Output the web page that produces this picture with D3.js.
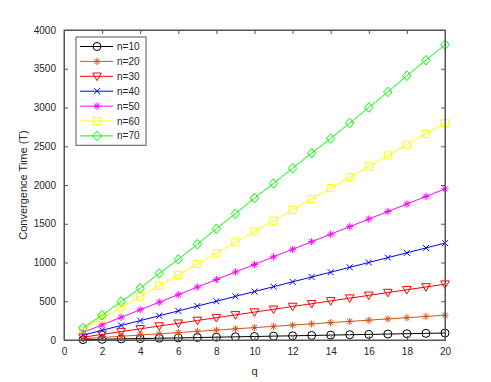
<!DOCTYPE html>
<html><head><meta charset="utf-8">
<script src="https://cdn.jsdelivr.net/npm/d3@7"></script>
<style>body{margin:0;background:#fff}svg{display:block}text{font-family:"Liberation Sans",Arial,sans-serif;fill:#262626}</style>
</head><body><svg id="c" width="491" height="382"></svg>
<script>
const qValues = [1,2,3,4,5,6,7,8,9,10,11,12,13,14,15,16,17,18,19,20];
const seriesNames = ["n=10","n=20","n=30","n=40","n=50","n=60","n=70"];
const n10 = [5,9,14,18,23,27,32,36,41,45,50,54,59,63,68,72,77,81,86,90];
const n20 = [16,32,48,64,80,96,112,128,144,160,176,192,208,224,240,256,272,288,304,320];
const n30 = [36,72,108,144,180,216,252,288,324,360,396,432,468,504,540,576,612,648,684,720];
const n40 = [63,125,188,250,313,375,438,500,563,625,688,750,813,875,938,1000,1063,1125,1188,1250];
const n50 = [98,195,293,390,488,585,683,780,878,975,1073,1170,1268,1365,1463,1560,1658,1755,1853,1950];
const n60 = [140,280,420,560,700,840,980,1120,1260,1400,1540,1680,1820,1960,2100,2240,2380,2520,2660,2800];
const n70 = [155,320,495,667,860,1040,1235,1436,1630,1832,2020,2215,2410,2600,2800,3000,3200,3410,3610,3810];
const xTicks = [0,2,4,6,8,10,12,14,16,18,20];
const yTicks = [0,500,1000,1500,2000,2500,3000,3500,4000];
const colors = ["#000000","#D95319","#FF0000","#0000FF","#FF00FF","#FFFF00","#00FF00"];
const markers = ["circle","asterisk","triDown","cross","asterisk","square","diamond"];
const allSeries = [n10,n20,n30,n40,n50,n60,n70];

const svg = d3.select("#c");
const L=64, R=445, T=30, B=340;
const x = d3.scaleLinear().domain([0,20]).range([L,R]);
const y = d3.scaleLinear().domain([0,4000]).range([B,T]);
const axisCol = "#555";

function markerPath(type){
  const s=3.6;
  switch(type){
    case "circle": return d3.symbol().type(d3.symbolCircle).size(Math.PI*16)();
    case "square": return `M${-s},${-s}H${s}V${s}H${-s}Z`;
    case "diamond": return `M0,${-4.8}L${4.2},0L0,${4.8}L${-4.2},0Z`;
    case "triDown": return `M${-4.3},${-3.3}L${4.3},${-3.3}L0,${4.3}Z`;
    case "cross": return `M-3,-3L3,3M-3,3L3,-3`;
    case "asterisk": return `M-3.6,0H3.6M0,-3.6V3.6M-2.6,-2.6L2.6,2.6M-2.6,2.6L2.6,-2.6`;
  }
}

const g = svg.append("g");
allSeries.forEach((vals,i)=>{
  const data = qValues.map((q,j)=>[q,vals[j]]);
  g.append("path").datum(data)
    .attr("fill","none").attr("stroke",colors[i]).attr("stroke-width",1)
    .attr("d",d3.line().x(d=>x(d[0])).y(d=>y(d[1])));
  g.selectAll(null).data(data).enter().append("path")
    .attr("transform",d=>`translate(${x(d[0])},${y(d[1])})`)
    .attr("d",markerPath(markers[i]))
    .attr("fill","none").attr("stroke",colors[i]).attr("stroke-width",1);
});

const fmt = d3.format("d");
const xb = svg.append("g").attr("transform",`translate(0,${B})`)
  .call(d3.axisBottom(x).tickValues(xTicks).tickSize(-4).tickPadding(8).tickFormat(fmt));
const xt = svg.append("g").attr("transform",`translate(0,${T})`)
  .call(d3.axisTop(x).tickValues(xTicks).tickSize(-4).tickFormat(""));
const yl = svg.append("g").attr("transform",`translate(${L},0)`)
  .call(d3.axisLeft(y).tickValues(yTicks).tickSize(-4).tickPadding(8).tickFormat(fmt));
const yr = svg.append("g").attr("transform",`translate(${R},0)`)
  .call(d3.axisRight(y).tickValues(yTicks).tickSize(-4).tickFormat(""));
[xb,xt,yl,yr].forEach(a=>{
  a.select(".domain").attr("stroke",axisCol).attr("stroke-width",1);
  a.selectAll(".tick line").attr("stroke",axisCol);
  a.selectAll(".tick text").attr("fill","#262626").style("font-size","10px").style("font-family","'Liberation Sans',Arial,sans-serif");
});
svg.append("rect").attr("x",L).attr("y",T).attr("width",R-L).attr("height",B-T)
  .attr("fill","none").attr("stroke",axisCol).attr("stroke-width",1);

svg.append("text").attr("x",(L+R)/2).attr("y",375).attr("text-anchor","middle")
  .style("font-size","11px").text("q");
svg.append("text").attr("transform",`translate(27,${(T+B)/2}) rotate(-90)`)
  .attr("text-anchor","middle").style("font-size","11px").text("Convergence Time (T)");

const lg = svg.append("g");
const lx=76, ly=37, lw=70, rowH=14.9;
lg.append("rect").attr("x",lx).attr("y",ly).attr("width",lw).attr("height",rowH*7+4)
  .attr("fill","#fff").attr("stroke",axisCol).attr("stroke-width",1);
seriesNames.forEach((nm,i)=>{
  const cy = ly+9.5+i*rowH;
  lg.append("line").attr("x1",lx+4).attr("x2",lx+37).attr("y1",cy).attr("y2",cy)
    .attr("stroke",colors[i]).attr("stroke-width",1);
  lg.append("path").attr("transform",`translate(${lx+21},${cy})`).attr("d",markerPath(markers[i]))
    .attr("fill","none").attr("stroke",colors[i]).attr("stroke-width",1);
  lg.append("text").attr("x",lx+41).attr("y",cy+3.5).style("font-size","10px").text(nm);
});
</script></body></html>
